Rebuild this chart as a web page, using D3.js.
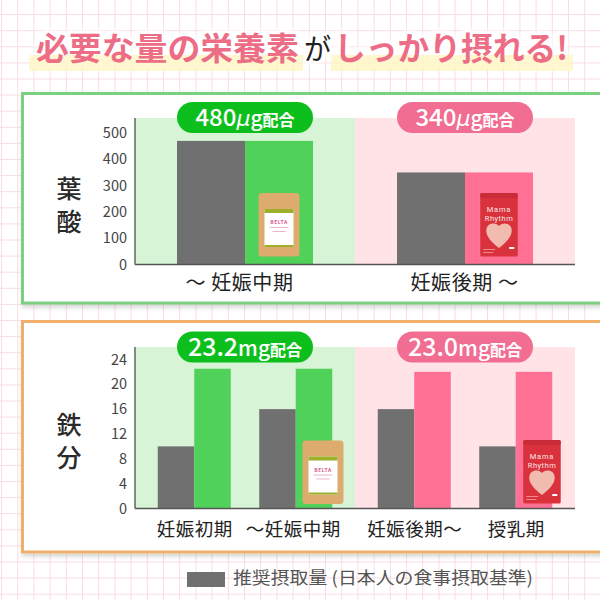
<!DOCTYPE html>
<html>
<head>
<meta charset="utf-8">
<script src="https://cdn.jsdelivr.net/npm/d3@7"></script>
<style>
  html, body { margin: 0; padding: 0; background: #fff; overflow: hidden; }
  svg { display: block; }
  text { font-family: "Noto Sans CJK JP", "Noto Sans", sans-serif; }
</style>
</head>
<body>
<svg id="chart" width="600" height="600"></svg>
<script>
// 葉酸 (µg)
const folicCategories = ["〜 妊娠中期", "妊娠後期 〜"];
const folicRecommended = [470, 350];
const folicBrand = [470, 350];
const folicTicks = [0, 100, 200, 300, 400, 500];

// 鉄分 (mg)
const ironCategories = ["妊娠初期", "〜妊娠中期", "妊娠後期〜", "授乳期"];
const ironRecommended = [10, 16, 16, 10];
const ironBrand = [22.5, 22.5, 22, 22];
const ironTicks = [0, 4, 8, 12, 16, 20, 24];

const brandKeys = ["belta", "mama"];
const folicPills = ["480", "340"];
const ironPills = ["23.2", "23.0"];

const colors = {
  gray: "#707070",
  belta: { bg: "#d7f4d7", bar: "#4fd15a", pill: "#0dbf1c" },
  mama: { bg: "#ffe3e6", bar: "#ff7094", pill: "#f26d92" }
};

const width = 600, height = 600;
const svg = d3.select("#chart");
const defs = svg.append("defs");

defs.append("filter").attr("id", "shadow")
  .attr("x", "-5%").attr("y", "-5%").attr("width", "110%").attr("height", "112%")
  .append("feDropShadow")
  .attr("dx", 1).attr("dy", 3).attr("stdDeviation", 2)
  .attr("flood-color", "#000").attr("flood-opacity", 0.16);

defs.append("filter").attr("id", "glow")
  .attr("x", "-5%").attr("y", "-30%").attr("width", "110%").attr("height", "160%")
  .append("feGaussianBlur").attr("stdDeviation", 2.5);

// graph paper background
const bg = svg.append("g").attr("stroke", "#f8dde3").attr("stroke-width", 1);
d3.range(1.5, width, 16.2).forEach(x => {
  bg.append("line").attr("x1", x).attr("x2", x).attr("y1", 0).attr("y2", height);
});
d3.range(-1.5, height, 16.1).forEach(y => {
  bg.append("line").attr("y1", y).attr("y2", y).attr("x1", 0).attr("x2", width);
});

// title: white glow first, then the highlighter strips, then the letters
const titleParts = [
  { t: "必要な量の栄養素", x: 36, len: 263, fill: "#ec6d85", size: 32, weight: 700 },
  { t: "が", x: 304, len: 27, fill: "#222", size: 29, weight: 400 },
  { t: "しっかり摂れる!", x: 334, len: 234, fill: "#ec6d85", size: 32, weight: 700 }
];
const addTitle = p => svg.append("text")
  .attr("x", p.x).attr("y", 60)
  .attr("textLength", p.len).attr("lengthAdjust", "spacingAndGlyphs")
  .attr("font-size", p.size).attr("font-weight", p.weight)
  .text(p.t);

titleParts.forEach(p => {
  addTitle(p).attr("fill", "#fff").attr("stroke", "#fff").attr("stroke-width", 7).attr("filter", "url(#glow)");
});
const hl = svg.append("g").attr("fill", "#fff6c8").attr("opacity", 0.88);
hl.append("rect").attr("x", 29).attr("y", 55).attr("width", 274).attr("height", 16);
hl.append("rect").attr("x", 331).attr("y", 55).attr("width", 242).attr("height", 16);
titleParts.forEach(p => {
  addTitle(p).attr("fill", p.fill);
});

function pouch(g, kind, cx, bottom) {
  const w = kind === "belta" ? 41 : 37.5, h = 63.5;
  const p = g.append("g").attr("transform", `translate(${cx - w / 2},${bottom - h})`);
  if (kind === "belta") {
    p.append("rect").attr("width", w).attr("height", h).attr("rx", 3.5).attr("fill", "#dcab6d");
    p.append("rect").attr("x", 6).attr("y", 16).attr("width", 29).attr("height", 38).attr("fill", "#fff");
    p.append("rect").attr("x", 6).attr("y", 16).attr("width", 29).attr("height", 4).attr("fill", "#9cb02c");
    p.append("rect").attr("x", 6).attr("y", 52).attr("width", 29).attr("height", 2).attr("fill", "#9cb02c");
    p.append("text").attr("x", w / 2).attr("y", 31).attr("text-anchor", "middle")
      .attr("font-size", 5).attr("font-weight", 700).attr("fill", "#d9558a").attr("letter-spacing", 0.5).text("BELTA");
    p.append("rect").attr("x", 11).attr("y", 34).attr("width", 19).attr("height", 1).attr("fill", "#eeb4cc");
    p.append("rect").attr("x", 14).attr("y", 38).attr("width", 13).attr("height", 1).attr("fill", "#eeb4cc");
  } else {
    p.append("rect").attr("width", w).attr("height", h).attr("rx", 1.5).attr("fill", "#d9323c");
    p.append("rect").attr("width", w).attr("height", 5).attr("rx", 1.5).attr("fill", "#c92c37");
    p.append("text").attr("x", w / 2).attr("y", 18.5).attr("text-anchor", "middle")
      .style("font-family", "Roboto")
      .attr("font-size", 7.5).attr("fill", "#fbe5e2").attr("letter-spacing", 0.8).text("Mama");
    p.append("text").attr("x", w / 2).attr("y", 27.5).attr("text-anchor", "middle")
      .style("font-family", "Roboto")
      .attr("font-size", 7.5).attr("fill", "#fbe5e2").attr("letter-spacing", 0.5).text("Rhythm");
    p.append("path")
      .attr("d", "M18.7 55 C11 49 6 43.5 6 37.5 C6 33 9.5 30.5 13 30.5 C15.5 30.5 17.5 31.5 18.7 33 C20 31.5 22 30.5 24.5 30.5 C28 30.5 31.5 33 31.5 37.5 C31.5 43.5 26.5 49 18.7 55 Z")
      .attr("fill", "#f1bbaf");
    p.append("rect").attr("x", 3).attr("y", 56).attr("width", 12).attr("height", 1).attr("fill", "#ee8a8c");
    p.append("rect").attr("x", 3).attr("y", 59).attr("width", 10).attr("height", 1).attr("fill", "#ee8a8c");
    p.append("rect").attr("x", 29).attr("y", 54).attr("width", 5).attr("height", 2).attr("fill", "#fff");
  }
}

function drawPanel(o) {
  const g = svg.append("g");

  g.append("rect")
    .attr("x", 22.5).attr("y", o.boxTop)
    .attr("width", 640).attr("height", o.boxBottom - o.boxTop)
    .attr("fill", "#fff").attr("stroke", o.boxColor).attr("stroke-width", 3)
    .attr("filter", "url(#shadow)");

  const group = d3.scaleBand().domain(brandKeys).range([135, 575]);
  const y = d3.scaleLinear().domain([0, o.maxValue]).range([o.baseline, o.plotTop]);

  // two tinted halves behind the bars
  g.selectAll(".band").data(brandKeys).enter().append("rect")
    .attr("x", d => group(d))
    .attr("y", o.plotTop)
    .attr("width", group.bandwidth())
    .attr("height", o.baseline - o.plotTop)
    .attr("fill", d => colors[d].bg);

  const perGroup = o.categories.length / brandKeys.length;
  const rows = o.categories.map((c, i) => ({
    c, i,
    brand: brandKeys[Math.floor(i / perGroup)],
    rec: o.recommended[i],
    val: o.brandValues[i]
  }));

  // category centres, sitting inside the halves
  const cx = d => {
    const inner = d3.scalePoint()
      .domain(d3.range(perGroup))
      .range([group(d.brand), group(d.brand) + group.bandwidth()])
      .padding(o.innerPadding);
    return inner(d.i % perGroup);
  };

  g.selectAll(".rec").data(rows).enter().append("rect")
    .attr("x", d => cx(d) - o.barWidth)
    .attr("y", d => y(d.rec))
    .attr("width", o.barWidth)
    .attr("height", d => y(0) - y(d.rec))
    .attr("fill", colors.gray);

  g.selectAll(".val").data(rows).enter().append("rect")
    .attr("x", d => cx(d))
    .attr("y", d => y(d.val))
    .attr("width", o.barWidth)
    .attr("height", d => y(0) - y(d.val))
    .attr("fill", d => colors[d.brand].bar);

  // axes
  const yAxis = g.append("g").attr("transform", "translate(135,0)")
    .call(d3.axisLeft(y).tickValues(o.ticks).tickSize(0).tickPadding(8));
  yAxis.select(".domain").remove();
  yAxis.selectAll("text")
    .attr("font-size", o.tickSize).attr("fill", "#444")
    .style("font-family", "'Noto Sans CJK JP'");
  g.append("line").attr("x1", 135).attr("x2", 135).attr("y1", o.plotTop).attr("y2", o.baseline)
    .attr("stroke", "#5b6b5b").attr("stroke-width", 1.5);
  g.append("line").attr("x1", 135).attr("x2", 575).attr("y1", o.baseline).attr("y2", o.baseline)
    .attr("stroke", "#555").attr("stroke-width", 1.5);

  const xScale = d3.scaleOrdinal().domain(o.categories).range(rows.map(cx));
  const xAxis = g.append("g").attr("transform", `translate(0,${o.baseline})`)
    .call(d3.axisBottom(xScale).tickSize(0).tickPadding(o.labelPad));
  xAxis.select(".domain").remove();
  xAxis.selectAll("text")
    .attr("font-size", o.labelSize).attr("fill", "#222")
    .attr("letter-spacing", o.labelSpacing)
    .attr("dx", (d, i) => o.labelNudge[i])
    .style("font-family", "'Noto Sans CJK JP'");

  // pills
  brandKeys.forEach((b, i) => {
    const mid = group(b) + group.bandwidth() / 2;
    g.append("rect")
      .attr("x", mid - 68).attr("y", o.pillTop)
      .attr("width", 136).attr("height", 31).attr("rx", 15.5)
      .attr("fill", colors[b].pill);
    const t = g.append("text")
      .attr("x", mid).attr("y", o.pillTop + 24)
      .attr("text-anchor", "middle").attr("fill", "#fff");
    t.append("tspan").attr("font-size", o.pillSize).attr("font-weight", 500).text(o.pills[i]);
    if (o.unit === "µg") {
      t.append("tspan").attr("font-size", 22).attr("font-style", "italic").style("font-family", "'DejaVu Sans'").text("μ");
      t.append("tspan").attr("font-size", 21).attr("font-weight", 500).text("g");
    } else {
      t.append("tspan").attr("font-size", 21).attr("font-weight", 500).text("mg");
    }
    t.append("tspan").attr("font-size", 16).attr("font-weight", 700).text("配合");
  });

  // side heading
  o.heading.forEach((ch, i) => {
    g.append("text")
      .attr("x", 69).attr("y", o.headingY + i * 33)
      .attr("text-anchor", "middle")
      .attr("font-size", 25).attr("font-weight", 500).attr("fill", "#2a2a2a")
      .text(ch);
  });

  // product pouches
  o.pouches.forEach(p => {
    const row = rows[p.row];
    pouch(g, row.brand, cx(row) + o.barWidth / 2 + p.dx, o.baseline - p.up);
  });
}

drawPanel({
  categories: folicCategories,
  recommended: folicRecommended,
  brandValues: folicBrand,
  ticks: folicTicks,
  pills: folicPills,
  unit: "µg",
  heading: ["葉", "酸"],
  headingY: 198,
  boxTop: 93.5, boxBottom: 303, boxColor: "#7cd07f",
  plotTop: 118, baseline: 264.5, maxValue: 557,
  innerPadding: 0.5, barWidth: 68,
  pillTop: 102, pillSize: 24,
  tickSize: 14.5, labelSize: 20, labelSpacing: 0.6, labelPad: 11, labelNudge: [-6, -1],
  pouches: [{ row: 0, dx: 0, up: 8 }, { row: 1, dx: 0, up: 8 }]
});

drawPanel({
  categories: ironCategories,
  recommended: ironRecommended,
  brandValues: ironBrand,
  ticks: ironTicks,
  pills: ironPills,
  unit: "mg",
  heading: ["鉄", "分"],
  headingY: 434,
  boxTop: 321.5, boxBottom: 552, boxColor: "#f0b06c",
  plotTop: 347, baseline: 508.5, maxValue: 26,
  innerPadding: 0.584, barWidth: 36.5,
  pillTop: 331.5, pillSize: 25,
  tickSize: 14.5, labelSize: 18.5, labelSpacing: 0.5, labelPad: 14, labelNudge: [0, -3, 0, 0],
  pouches: [{ row: 1, dx: 9, up: 4.5 }, { row: 3, dx: 8, up: 5 }]
});

// legend
svg.append("rect").attr("x", 187).attr("y", 572).attr("width", 38).attr("height", 15).attr("fill", colors.gray);
svg.append("text").attr("x", 233).attr("y", 584)
  .attr("font-size", 17.5).attr("fill", "#555")
  .attr("textLength", 300).attr("lengthAdjust", "spacingAndGlyphs")
  .text("推奨摂取量 (日本人の食事摂取基準)");
</script>
</body>
</html>
